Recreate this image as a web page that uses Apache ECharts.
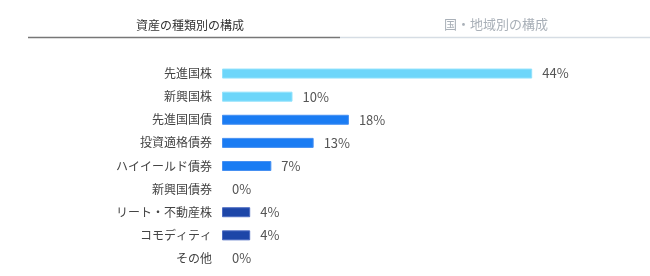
<!DOCTYPE html>
<html><head><meta charset="utf-8">
<script src="https://cdn.jsdelivr.net/npm/echarts@6/dist/echarts.min.js"></script>
<style>html,body{margin:0;padding:0;background:#fff}#c{width:650px;height:276px}</style>
</head><body><div id="c"></div>
<script>
var categories = ['先進国株','新興国株','先進国国債','投資適格債券','ハイイールド債券','新興国債券','リート・不動産株','コモディティ','その他'];
var values = [44, 10, 18, 13, 7, 0, 4, 4, 0];
var groups = [0, 0, 1, 1, 1, 1, 2, 2, 2];
var tabLabels = ['資産の種類別の構成', '国・地域別の構成'];
var fills = ['#6dd6fa', '#1a7cf3', '#1d46a8'];
var borders = ['#92e2fc', '#4690f2', '#4d6cc2'];
var font = '"Noto Sans CJK JP", "Noto Sans", sans-serif';

var chart = echarts.init(document.getElementById('c'), null, {renderer: 'canvas'});
chart.setOption({
  animation: false,
  textStyle: {fontFamily: font},
  graphic: [
    {type: 'text', left: 190 - 54, top: 19, style: {text: tabLabels[0], font: '12px ' + font, fill: '#333'}},
    {type: 'text', left: 496 - 52, top: 18, style: {text: tabLabels[1], font: '13px ' + font, fill: '#a9b0b8'}},
    {type: 'line', shape: {x1: 340, y1: 37.5, x2: 650, y2: 37.5}, style: {stroke: '#d6dde4', lineWidth: 1.5}},
    {type: 'line', shape: {x1: 28, y1: 37.5, x2: 340, y2: 37.5}, style: {stroke: '#777', lineWidth: 1.5}}
  ],
  grid: {left: 222, right: 75.5, top: 62, bottom: 6, containLabel: false},
  xAxis: {type: 'value', min: 0, max: 50, show: false},
  yAxis: {
    type: 'category', data: categories, inverse: true,
    axisLine: {show: false}, axisTick: {show: false},
    axisLabel: {color: '#444', fontSize: 12, margin: 10, fontFamily: font}
  },
  series: [{
    type: 'bar', barWidth: 10,
    data: values.map(function (v, i) {
      return {value: v, itemStyle: v > 0
        ? {color: fills[groups[i]], borderColor: borders[groups[i]], borderWidth: 1}
        : {color: 'rgba(0,0,0,0)', borderWidth: 0}};
    }),
    label: {show: true, position: 'right', distance: 10, formatter: '{c}%', color: '#555', fontSize: 13, fontFamily: font}
  }]
});
</script></body></html>
